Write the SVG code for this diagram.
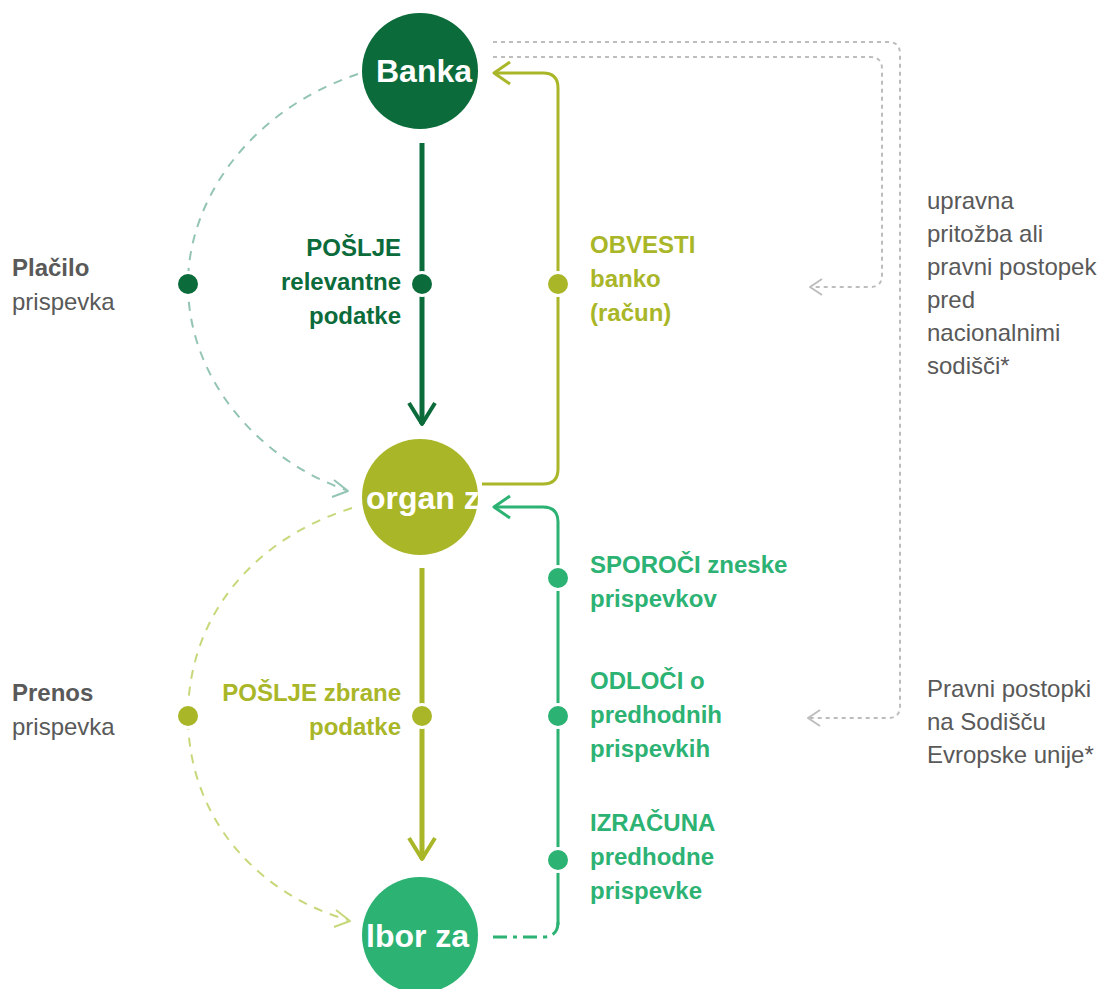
<svg xmlns="http://www.w3.org/2000/svg" width="1110" height="989" viewBox="0 0 1110 989">
<style>
text{font-family:"Liberation Sans",Arial,sans-serif;font-size:24px}
.b{font-weight:bold}
.g{fill:#595959}
.dg{fill:#0b6b3a}
.ol{fill:#a9b628}
.gr{fill:#2cb273}
.ct{fill:#fff;font-weight:bold;font-size:32px}
.ln{fill:none;stroke-linecap:butt;stroke-linejoin:round}
.dot{stroke:#fff;stroke-width:6;paint-order:stroke}
</style>
<rect width="1110" height="989" fill="#fff"/>
<g id="connectors">
  <path class="ln" d="M493 42 H888 Q900 42 900 54 V706 Q900 718 888 718 H810" stroke="#bdbdbd" stroke-width="2" stroke-dasharray="4 4"/>
  <path class="ln" d="M820 710 L808 718 L820 726" stroke="#bdbdbd" stroke-width="2"/>
  <path class="ln" d="M493 57 H870 Q882 57 882 69 V275 Q882 287 870 287 H812" stroke="#bdbdbd" stroke-width="2" stroke-dasharray="4 4"/>
  <path class="ln" d="M822 279 L810 287 L822 295" stroke="#bdbdbd" stroke-width="2"/>
  <path class="ln" d="M358 74 C250 110 188 200 188 284 C188 380 260 460 346 490" stroke="#94c4b4" stroke-width="2" stroke-dasharray="9 8"/>
  <path class="ln" d="M334 480 L348 491 L332 497" stroke="#94c4b4" stroke-width="2"/>
  <path class="ln" d="M352 508 C250 540 188 620 188 716 C188 820 260 895 348 920" stroke="#c6d97a" stroke-width="2" stroke-dasharray="9 8"/>
  <path class="ln" d="M336 910 L350 921 L334 927" stroke="#c6d97a" stroke-width="2"/>
  <path class="ln" d="M422 143 V424" stroke="#0b6b3a" stroke-width="5"/>
  <path class="ln" d="M409 403 L422 424 L435 403" stroke="#0b6b3a" stroke-width="4"/>
  <path class="ln" d="M422 568 V859" stroke="#a9b628" stroke-width="5"/>
  <path class="ln" d="M409 838 L422 859 L435 838" stroke="#a9b628" stroke-width="4"/>
  <path class="ln" d="M482 484 H543 Q558 484 558 469 V88 Q558 73 543 73 H495" stroke="#a9b628" stroke-width="3"/>
  <path class="ln" d="M510 62 L494 73 L510 84" stroke="#a9b628" stroke-width="3"/>
  <path class="ln" d="M558 925 V522 Q558 507 543 507 H495" stroke="#2cb273" stroke-width="3"/>
  <path class="ln" d="M510 496 L494 507 L510 518" stroke="#2cb273" stroke-width="3"/>
  <path class="ln" d="M493 937 H543 Q558 937 558 922" stroke="#2cb273" stroke-width="3" stroke-dasharray="14 6 4 6"/>
  <circle class="dot" cx="188" cy="284" r="10" fill="#0b6b3a"/>
  <circle class="dot" cx="422" cy="284" r="10" fill="#0b6b3a"/>
  <circle class="dot" cx="558" cy="284" r="10" fill="#a9b628"/>
  <circle class="dot" cx="188" cy="716" r="10" fill="#a9b628"/>
  <circle class="dot" cx="422" cy="716" r="10" fill="#a9b628"/>
  <circle class="dot" cx="558" cy="578" r="10" fill="#2cb273"/>
  <circle class="dot" cx="558" cy="716" r="10" fill="#2cb273"/>
  <circle class="dot" cx="558" cy="860" r="10" fill="#2cb273"/>
</g>
<g id="banka">
  <circle cx="420" cy="71" r="58" fill="#0b6b3a"/>
  <text class="ct" x="424" y="82" text-anchor="middle">Banka</text>
</g>
<g id="organ">
  <circle cx="420" cy="497" r="58" fill="#a9b628"/>
  <text class="ct" x="366" y="509">organ z</text>
</g>
<g id="odbor">
  <circle cx="420" cy="935" r="58" fill="#2cb273"/>
  <text class="ct" x="366" y="947">lbor za</text>
</g>
<g id="labels">
  <text class="g" x="12" y="276"><tspan class="b">Plačilo</tspan><tspan x="12" dy="34">prispevka</tspan></text>
  <text class="g" x="12" y="701"><tspan class="b">Prenos</tspan><tspan x="12" dy="34">prispevka</tspan></text>
  <text class="dg b" text-anchor="end" x="401" y="256"><tspan x="401">POŠLJE</tspan><tspan x="401" dy="34">relevantne</tspan><tspan x="401" dy="34">podatke</tspan></text>
  <text class="ol b" text-anchor="end" x="401" y="701"><tspan x="401">POŠLJE zbrane</tspan><tspan x="401" dy="34">podatke</tspan></text>
  <text class="ol b" x="590" y="253"><tspan x="590">OBVESTI</tspan><tspan x="590" dy="34">banko</tspan><tspan x="590" dy="34">(račun)</tspan></text>
  <text class="gr b" x="590" y="573"><tspan x="590">SPOROČI zneske</tspan><tspan x="590" dy="34">prispevkov</tspan></text>
  <text class="gr b" x="590" y="689"><tspan x="590">ODLOČI o</tspan><tspan x="590" dy="34">predhodnih</tspan><tspan x="590" dy="34">prispevkih</tspan></text>
  <text class="gr b" x="590" y="831"><tspan x="590">IZRAČUNA</tspan><tspan x="590" dy="34">predhodne</tspan><tspan x="590" dy="34">prispevke</tspan></text>
  <text class="g" x="927" y="209"><tspan x="927">upravna</tspan><tspan x="927" dy="33">pritožba ali</tspan><tspan x="927" dy="33">pravni postopek</tspan><tspan x="927" dy="33">pred</tspan><tspan x="927" dy="33">nacionalnimi</tspan><tspan x="927" dy="33">sodišči*</tspan></text>
  <text class="g" x="927" y="697"><tspan x="927">Pravni postopki</tspan><tspan x="927" dy="33">na Sodišču</tspan><tspan x="927" dy="33">Evropske unije*</tspan></text>
</g>
</svg>
